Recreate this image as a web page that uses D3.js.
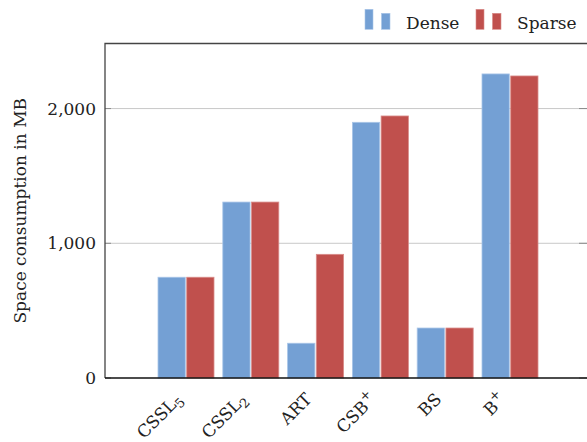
<!DOCTYPE html>
<meta charset="utf-8">
<script src="https://cdn.jsdelivr.net/npm/d3@7"></script>
<style>
    body { margin: 0; background: white; }
    svg { display: block; font-family: "DejaVu Serif", "Liberation Serif", serif; }
</style>
<div id="chart"></div>
<script>
    // categories as [main text, superscript/subscript, kind]
    var categories = ["CSSL5", "CSSL2", "ART", "CSB+", "BS", "B+"];
    var labelParts = [["CSSL", "5", "sub"], ["CSSL", "2", "sub"], ["ART", "", ""],
                      ["CSB", "+", "sup"], ["BS", "", ""], ["B", "+", "sup"]];
    var series = ["Dense", "Sparse"];
    var dense  = [748, 1306, 258, 1898, 371, 2257];
    var sparse = [748, 1306, 918, 1945, 371, 2242];
    var yTicks = [0, 1000, 2000];
    var colors = { Dense: "#74a0d4", Sparse: "#c0504d" };
    var strokes = { Dense: "#a9c5e8", Sparse: "#d98d8a" };

    var W = 587, H = 442,
        mLeft = 105, mRight = 590, mTop = 43.5, mBottom = 378,
        fs = 17;

    var svg = d3.select("#chart").append("svg").attr("width", W).attr("height", H);

    var y = d3.scaleLinear().domain([0, 2483]).range([mBottom, mTop]);
    var x = d3.scaleBand().domain(categories).range([153.6, 542.4]).padding(0);
    var x1 = d3.scaleBand().domain(series).range([0, 56]).paddingInner(0.05);
    var offset = x.bandwidth() / 2 - 28;

    // grid
    svg.append("g").selectAll("line").data(yTicks.filter(function(d) { return d > 0; }))
        .enter().append("line")
        .attr("x1", mLeft).attr("x2", mRight)
        .attr("y1", function(d) { return y(d); }).attr("y2", function(d) { return y(d); })
        .attr("stroke", "#c8c8c8").attr("stroke-width", 1);

    // bars
    var rows = categories.map(function(c, i) { return { cat: c, Dense: dense[i], Sparse: sparse[i] }; });
    var groups = svg.append("g").selectAll("g").data(rows).enter().append("g")
        .attr("transform", function(d) { return "translate(" + (x(d.cat) + offset) + ",0)"; });
    groups.selectAll("rect").data(function(d) { return series.map(function(s) { return { s: s, v: d[s] }; }); })
        .enter().append("rect")
        .attr("x", function(d) { return x1(d.s); })
        .attr("width", x1.bandwidth())
        .attr("y", function(d) { return y(d.v); })
        .attr("height", function(d) { return mBottom - y(d.v); })
        .attr("fill", function(d) { return colors[d.s]; })
        .attr("stroke", function(d) { return strokes[d.s]; })
        .attr("stroke-width", 0.8);

    // y axis ticks (inside, both sides)
    var tk = svg.append("g");
    yTicks.forEach(function(t) {
        tk.append("line").attr("x1", mLeft).attr("x2", mLeft + 6).attr("y1", y(t)).attr("y2", y(t))
            .attr("stroke", "#8a8a8a").attr("stroke-width", 1);
        tk.append("line").attr("x1", 579).attr("x2", mRight).attr("y1", y(t)).attr("y2", y(t))
            .attr("stroke", "#8a8a8a").attr("stroke-width", 1);
        tk.append("text").attr("x", 96).attr("y", y(t)).attr("dy", "0.35em")
            .attr("text-anchor", "end").attr("font-size", fs).attr("fill", "#222")
            .text(d3.format(",")(t));
    });

    // frame
    svg.append("path")
        .attr("d", "M" + mRight + "," + mTop + "H" + mLeft + "V" + mBottom)
        .attr("fill", "none").attr("stroke", "#444").attr("stroke-width", 1.3);
    svg.append("line").attr("x1", mLeft).attr("x2", mRight).attr("y1", mBottom).attr("y2", mBottom)
        .attr("stroke", "#111").attr("stroke-width", 1.3);

    // x labels
    var xl = svg.append("g").selectAll("text").data(categories).enter().append("text")
        .attr("transform", function(d) { return "translate(" + (x(d) + x.bandwidth() / 2 - 7) + "," + (mBottom + 18) + ") rotate(-45)"; })
        .attr("text-anchor", "end").attr("font-size", fs).attr("fill", "#222").attr("dy", "0.35em");
    xl.each(function(d, i) {
        var p = labelParts[i], t = d3.select(this);
        t.append("tspan").text(p[0]);
        if (p[1]) t.append("tspan").attr("font-size", 13)
            .attr("dy", p[2] == "sub" ? 4 : -8).text(p[1]);
    });

    // y label
    svg.append("text")
        .attr("transform", "translate(26," + ((mTop + mBottom) / 2) + ") rotate(-90)")
        .attr("text-anchor", "middle").attr("font-size", fs).attr("fill", "#222")
        .text("Space consumption in MB");

    // legend
    var lg = svg.append("g");
    var lx = [365, 476];
    series.forEach(function(s, i) {
        lg.append("rect").attr("x", lx[i]).attr("y", 9.3).attr("width", 8).attr("height", 20)
            .attr("fill", colors[s]).attr("stroke", strokes[s]).attr("stroke-width", 0.6);
        lg.append("rect").attr("x", lx[i] + 16.5).attr("y", 13.3).attr("width", 8.5).attr("height", 16)
            .attr("fill", colors[s]).attr("stroke", strokes[s]).attr("stroke-width", 0.6);
        lg.append("text").attr("x", lx[i] + 41).attr("y", 29).attr("font-size", fs).attr("fill", "#222").text(s);
    });
</script>
